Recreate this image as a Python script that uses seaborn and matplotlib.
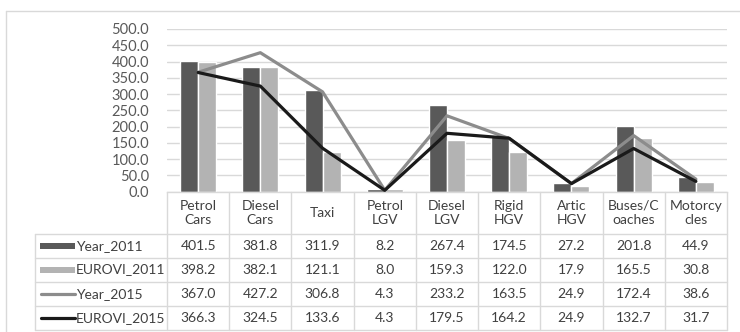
import numpy as np
import pandas as pd
import matplotlib
matplotlib.use("Agg")
import matplotlib.pyplot as plt
from matplotlib.transforms import blended_transform_factory
from matplotlib.patches import Rectangle
from matplotlib.lines import Line2D
import seaborn as sns

# ---- data -------------------------------------------------------------
categories = ["Petrol Cars", "Diesel Cars", "Taxi", "Petrol LGV", "Diesel LGV",
              "Rigid HGV", "Artic HGV", "Buses/Coaches", "Motorcycles"]
header_labels = ["Petrol\nCars", "Diesel\nCars", "Taxi", "Petrol\nLGV", "Diesel\nLGV",
                 "Rigid\nHGV", "Artic\nHGV", "Buses/C\noaches", "Motorcy\ncles"]
year_2011 = [401.5, 381.8, 311.9, 8.2, 267.4, 174.5, 27.2, 201.8, 44.9]
eurovi_2011 = [398.2, 382.1, 121.1, 8.0, 159.3, 122.0, 17.9, 165.5, 30.8]
year_2015 = [367.0, 427.2, 306.8, 4.3, 233.2, 163.5, 24.9, 172.4, 38.6]
eurovi_2015 = [366.3, 324.5, 133.6, 4.3, 179.5, 164.2, 24.9, 132.7, 31.7]
series_names = ["Year_2011", "EUROVI_2011", "Year_2015", "EUROVI_2015"]
y_ticks = np.arange(0, 501, 50)

# ---- style ------------------------------------------------------------
sns.set_style("white")
plt.rcParams["font.family"] = ["Lato", "DejaVu Sans"]

c_dark = "#595959"
c_light = "#b3b3b3"
c_line_gray = "#8c8c8c"
c_line_black = "#1a1a1a"
grid_c = "#d9d9d9"
text_c = "#404040"

W, H = 740, 332
fig = plt.figure(figsize=(W / 100, H / 100), dpi=100)

# full-figure overlay in pixel units for the frame and the table
ov = fig.add_axes([0, 0, 1, 1], zorder=0)
ov.set_xlim(0, W)
ov.set_ylim(H, 0)
ov.axis("off")

x0, x1 = 167, 727
y_top, y_base = 29, 191.7
ax = fig.add_axes([x0 / W, (H - y_base) / H, (x1 - x0) / W, (y_base - y_top) / H], zorder=1)
ax.patch.set_alpha(0)

bars = pd.DataFrame({
    "category": categories * 2,
    "series": [series_names[0]] * len(categories) + [series_names[1]] * len(categories),
    "value": year_2011 + eurovi_2011,
})
sns.barplot(data=bars, x="category", y="value", hue="series",
            hue_order=series_names[:2], palette=[c_dark, c_light],
            width=0.58, gap=0, saturation=1, legend=False, ax=ax, zorder=2)
sns.lineplot(x=categories, y=year_2015, sort=False, color=c_line_gray,
             lw=2.3, ax=ax, zorder=3)
sns.lineplot(x=categories, y=eurovi_2015, sort=False, color=c_line_black,
             lw=2.3, ax=ax, zorder=4)

ax.set_xlim(-0.5, len(categories) - 0.5)
ax.set_ylim(0, 500)
ax.set_yticks(y_ticks)
ax.set_yticklabels([f"{v:.1f}" for v in y_ticks], color=c_dark, fontsize=10.5)
ax.tick_params(axis="y", length=0, pad=13)
ax.set_xticks([])
ax.set_xlabel("")
ax.set_ylabel("")
ax.grid(axis="y", color=grid_c, lw=1, zorder=0)
ax.set_axisbelow(True)
for s in ["top", "right", "left"]:
    ax.spines[s].set_visible(False)
ax.spines["bottom"].set_color(grid_c)
ax.spines["bottom"].set_linewidth(1)

# outer chart frame (top and left edges)
ov.plot([6, W], [10.5, 10.5], color=grid_c, lw=1)
ov.plot([6, 6], [10.5, H], color=grid_c, lw=1)

# ---- data table ---------------------------------------------------------
tr = blended_transform_factory(ax.transData, ov.transData)
n = len(categories)
row_edges = [191.7, 234, 257.5, 281.5, 306, 330]
legend_left = 35

# vertical column lines
for i in range(n + 1):
    ov.add_line(Line2D([i - 0.5, i - 0.5], [row_edges[0], row_edges[-1]],
                       transform=tr, color=grid_c, lw=1))
ov.plot([legend_left, legend_left], [row_edges[1], row_edges[-1]], color=grid_c, lw=1)
# horizontal row lines
for y in row_edges[1:]:
    ov.plot([legend_left, x1], [y, y], color=grid_c, lw=1)

# header labels
hy = (row_edges[0] + row_edges[1]) / 2
for i, lab in enumerate(header_labels):
    ov.text(i, hy, lab, transform=tr, ha="center", va="center",
            fontsize=10, color=text_c, linespacing=1.2)

rows = [year_2011, eurovi_2011, year_2015, eurovi_2015]
for r, (name, vals) in enumerate(zip(series_names, rows)):
    yc = (row_edges[r + 1] + row_edges[r + 2]) / 2
    for i, v in enumerate(vals):
        ov.text(i, yc, f"{v:.1f}", transform=tr, ha="center", va="center",
                fontsize=10, color=text_c)
    # legend key
    if r < 2:
        col = c_dark if r == 0 else c_light
        ov.add_patch(Rectangle((40, yc - 3), 35, 6, color=col, lw=0))
    else:
        col = c_line_gray if r == 2 else c_line_black
        ov.plot([41, 75], [yc, yc], color=col, lw=2.3, solid_capstyle="round")
    ov.text(76, yc, name, ha="left", va="center", fontsize=10, color=text_c)

fig.savefig("out.png", dpi=100)
